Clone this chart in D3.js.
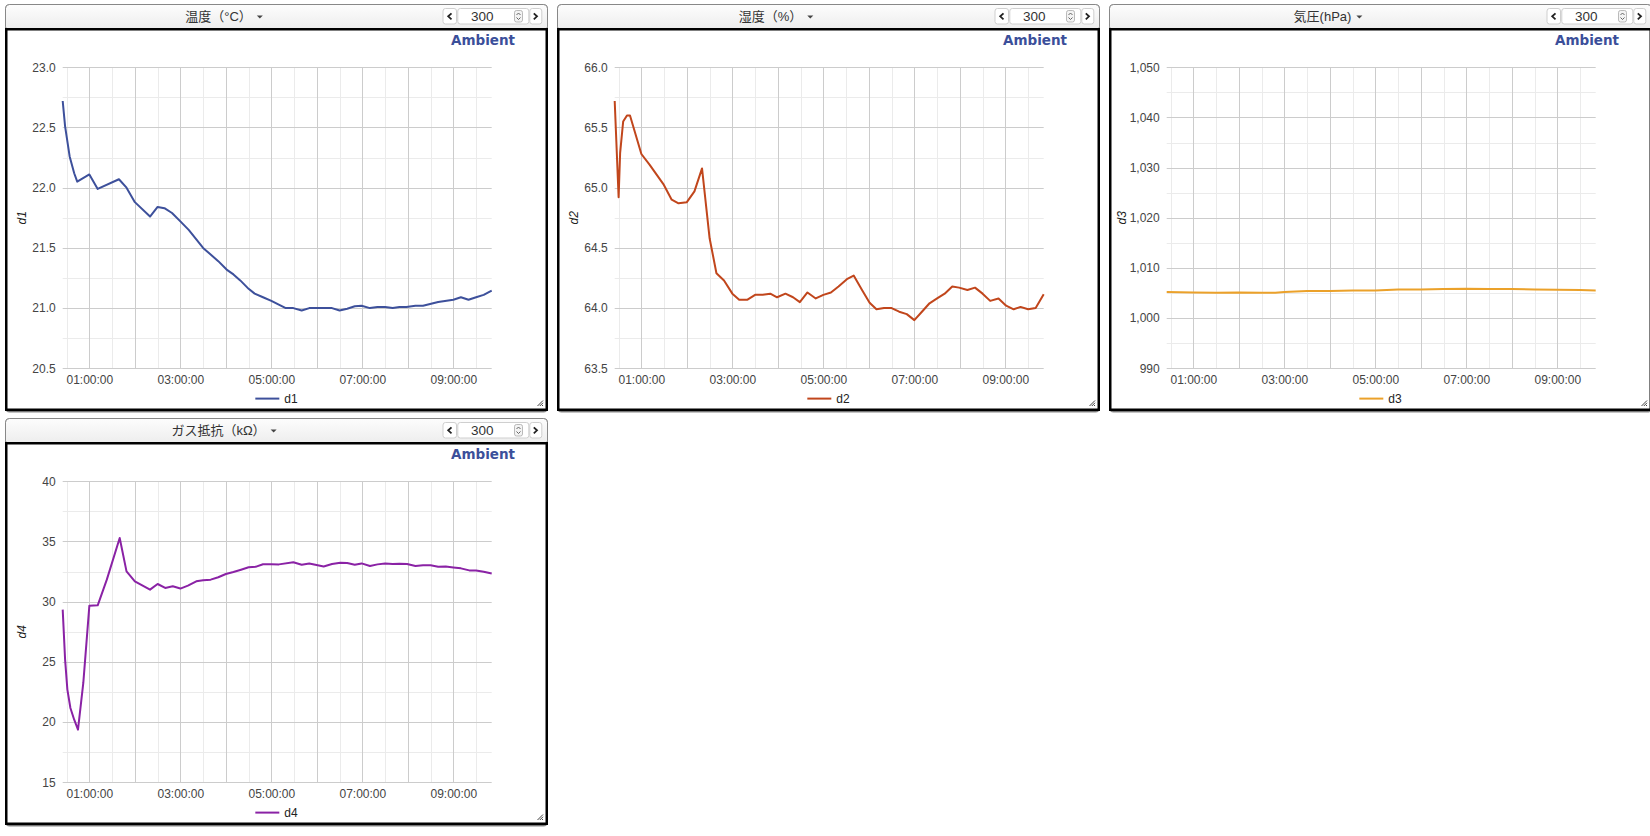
<!DOCTYPE html>
<html><head><meta charset="utf-8">
<script src="https://cdnjs.cloudflare.com/ajax/libs/d3/7.8.5/d3.min.js"></script>
<style>
html,body{margin:0;padding:0;background:#fff;}
svg{display:block;}
</style></head><body>
<svg id="c" width="1650" height="836"></svg>
<script>
const panelTitles = ["温度（°C）", "湿度（%）", "気圧(hPa)", "ガス抵抗（kΩ）"];
const seriesNames = ["d1", "d2", "d3", "d4"];
const seriesColors = ["#3d509b", "#c1461c", "#eba12a", "#8a22a5"];
const brandLabel = "Ambient";
const pointCount = "300";
const xDomain = ["00:24:50", "09:50:35"];
const xLabelTicks = ["01:00:00", "03:00:00", "05:00:00", "07:00:00", "09:00:00"];
const yDomains = [[20.5, 23], [63.5, 66], [990, 1050], [15, 40]];
const yMajorSteps = [0.5, 0.5, 10, 5];
const yFormats = [".1f", ".1f", ",", ".0f"];

const d1 = [
  ["00:24:50",22.72],["00:28",22.51],["00:34",22.26],["00:40",22.12],["00:44",22.05],["01:00",22.11],
  ["01:11",21.99],["01:39",22.07],["01:49",22.0],["02:00",21.88],["02:20",21.76],["02:30",21.84],
  ["02:39",21.83],["02:49",21.79],["03:00",21.72],["03:11",21.65],["03:30",21.50],["03:50",21.39],
  ["04:01",21.32],["04:10",21.28],["04:19",21.23],["04:30",21.16],["04:38",21.12],["04:49",21.09],
  ["05:00",21.06],["05:19",21.0],["05:29",21.0],["05:40",20.98],["05:50",21.0],["06:20",21.0],
  ["06:30",20.98],["06:40",20.995],["06:50",21.015],["06:59",21.02],["07:10",21.0],["07:20",21.01],
  ["07:30",21.01],["07:40",21.0],["07:49",21.01],["07:58",21.01],["08:10",21.02],["08:20",21.02],
  ["08:40",21.05],["09:00",21.07],["09:10",21.09],["09:20",21.07],["09:30",21.09],["09:40",21.11],
  ["09:50:35",21.145]
];
const d2 = [
  ["00:24:50",65.72],["00:30",64.92],["00:32",65.29],["00:36",65.55],["00:41",65.60],["00:45",65.60],
  ["01:00",65.28],["01:11",65.19],["01:29",65.03],["01:40",64.90],["01:49",64.87],["02:00",64.88],
  ["02:10",64.97],["02:20",65.16],["02:30",64.58],["02:39",64.29],["02:49",64.23],["03:00",64.12],
  ["03:09",64.07],["03:20",64.07],["03:30",64.11],["03:40",64.11],["03:50",64.12],["03:59",64.09],
  ["04:10",64.12],["04:20",64.09],["04:29",64.05],["04:39",64.13],["04:50",64.08],["05:00",64.11],
  ["05:10",64.13],["05:20",64.18],["05:31",64.24],["05:40",64.27],["05:51",64.15],["06:01",64.045],
  ["06:10",63.99],["06:20",64.0],["06:30",64.0],["06:40",63.97],["06:50",63.95],["07:00",63.90],
  ["07:10",63.97],["07:20",64.04],["07:30",64.08],["07:40",64.12],["07:50",64.18],["07:59",64.17],
  ["08:10",64.15],["08:20",64.17],["08:30",64.12],["08:40",64.06],["08:51",64.08],["09:01",64.02],
  ["09:11",63.99],["09:20",64.01],["09:30",63.99],["09:40",64.0],["09:50:35",64.115]
];
const d3s = [
  ["00:24:50",1005.2],["01:00",1005.13],["01:30",1005.07],["02:00",1005.13],["02:30",1005.07],
  ["02:48",1005.07],["03:00",1005.2],["03:30",1005.4],["04:00",1005.4],["04:30",1005.53],
  ["05:00",1005.53],["05:30",1005.73],["06:00",1005.73],["06:30",1005.8],["07:00",1005.87],
  ["07:30",1005.8],["08:00",1005.8],["08:30",1005.73],["09:00",1005.67],["09:30",1005.6],
  ["09:50:35",1005.53]
];
const d4 = [
  ["00:24:50",29.34],["00:28",25.19],["00:31",22.7],["00:35",21.17],["00:40",20.2],["00:45",19.37],
  ["00:52",23.25],["01:00",29.67],["01:11",29.7],["01:23",31.83],["01:40",35.29],["01:49",32.52],
  ["02:00",31.69],["02:20",31.0],["02:30",31.47],["02:40",31.14],["02:50",31.28],["03:00",31.09],
  ["03:10",31.33],["03:21",31.69],["03:30",31.78],["03:40",31.83],["03:50",32.03],["04:00",32.3],
  ["04:10",32.47],["04:20",32.66],["04:30",32.86],["04:40",32.91],["04:49",33.11],["05:00",33.12],
  ["05:10",33.1],["05:29",33.27],["05:40",33.07],["05:50",33.18],["06:09",32.93],["06:20",33.13],
  ["06:31",33.24],["06:40",33.21],["06:50",33.07],["06:59",33.18],["07:10",32.96],["07:20",33.1],
  ["07:30",33.18],["07:40",33.13],["07:49",33.16],["07:59",33.13],["08:10",32.96],["08:20",33.02],
  ["08:30",33.02],["08:40",32.9],["08:50",32.93],["09:00",32.85],["09:10",32.77],["09:21",32.6],
  ["09:30",32.6],["09:40",32.49],["09:50:35",32.35]
];
const seriesData = [d1, d2, d3s, d4];

// ---------- layout ----------
const PW = 543, PH = 408;
const origins = [[5, 4], [557, 4], [1109, 4], [5, 418]];
const plot = {left: 57.7, right: 486.7, top: 63.3, bottom: 364.3};
const AX_FONT = "'Liberation Sans', Arial, sans-serif";
const HD_FONT = "'Liberation Sans', Arial, 'Noto Sans CJK JP', sans-serif";

const parseT = s => d3.timeParse("%H:%M:%S")(s.length === 5 ? s + ":00" : s);
const fmtT = d3.timeFormat("%H:%M:%S");

const svg = d3.select("#c");
const defs = svg.append("defs");
const grad = defs.append("linearGradient").attr("id", "hdr").attr("x1", 0).attr("y1", 0).attr("x2", 0).attr("y2", 1);
grad.append("stop").attr("offset", "0%").attr("stop-color", "#fdfdfd");
grad.append("stop").attr("offset", "100%").attr("stop-color", "#ececec");

const x = d3.scaleTime().domain(xDomain.map(parseT)).range([plot.left, plot.right]);
const halfHours = d3.timeMinute.every(30).range(x.domain()[0], x.domain()[1]);

panelTitles.forEach((title, i) => {
  const [ox, oy] = origins[i];
  const g = svg.append("g").attr("transform", `translate(${ox},${oy})`);

  // frame
  g.append("rect").attr("x", 0.5).attr("y", 1.5).attr("width", PW - 1).attr("height", PH - 1)
    .attr("rx", 4).attr("fill", "#8a8a8a");
  g.append("rect").attr("x", 0.5).attr("y", 0.5).attr("width", PW - 1).attr("height", PH - 1.5)
    .attr("rx", 4).attr("fill", "#fff").attr("stroke", "#666");
  g.append("rect").attr("x", 0.5).attr("y", 0.5).attr("width", PW - 1).attr("height", 26)
    .attr("rx", 4).attr("fill", "url(#hdr)").attr("stroke", "#888");
  g.append("rect").attr("x", 1.25).attr("y", 25.25).attr("width", PW - 2.5).attr("height", PH - 27.5)
    .attr("fill", "#fff").attr("stroke", "#000").attr("stroke-width", 2.5);

  // header title + caret
  const tt = g.append("text").attr("y", 16.5).attr("font-family", HD_FONT).attr("font-size", 13)
    .attr("fill", "#333").text(title);
  const tw = tt.node().getComputedTextLength();
  const tx = 219 - (tw + 11) / 2;
  tt.attr("x", tx);
  const cx0 = tx + tw + 5;
  g.append("path").attr("d", `M${cx0},11.5 L${cx0 + 6},11.5 L${cx0 + 3},14.5 Z`).attr("fill", "#444");

  // controls
  const btn = (bx, bw) => g.append("rect").attr("x", bx + 0.5).attr("y", 4.5).attr("width", bw).attr("height", 15.5)
    .attr("rx", 2.5).attr("fill", "#fff").attr("stroke", "#cfcfcf");
  btn(437.5, 13.5);
  g.append("path").attr("d", "M446.5,9.3 L443.2,12.3 L446.5,15.3").attr("fill", "none").attr("stroke", "#222").attr("stroke-width", 1.8);
  btn(452.3, 71);
  g.append("text").attr("x", 466).attr("y", 17).attr("font-family", AX_FONT).attr("font-size", 13.5)
    .attr("fill", "#333").text(pointCount);
  g.append("rect").attr("x", 509.5).attr("y", 6.5).attr("width", 8).attr("height", 11.5).attr("rx", 2)
    .attr("fill", "#f3f3f3").attr("stroke", "#aaa").attr("stroke-width", 0.8);
  g.append("path").attr("d", "M511.5,11 L513.5,9 L515.5,11 M511.5,13.5 L513.5,15.5 L515.5,13.5")
    .attr("fill", "none").attr("stroke", "#555").attr("stroke-width", 0.9);
  btn(524.3, 12);
  g.append("path").attr("d", "M528.8,9.3 L532,12.3 L528.8,15.3").attr("fill", "none").attr("stroke", "#222").attr("stroke-width", 1.8);

  // brand
  g.append("text").attr("x", 510).attr("y", 40.5).attr("text-anchor", "end")
    .attr("font-family", "'DejaVu Sans', Verdana, sans-serif").attr("font-weight", "bold").attr("font-size", 13.5)
    .attr("fill", "#3b4f9a").text(brandLabel);

  // y scale
  const [lo, hi] = yDomains[i];
  const step = yMajorSteps[i];
  const y = d3.scaleLinear().domain([lo, hi]).range([plot.bottom, plot.top]);
  const n = Math.round((hi - lo) / step);
  const majors = d3.range(n + 1).map(k => lo + k * step);
  const minors = d3.range(n).map(k => lo + (k + 0.5) * step);

  // gridlines
  const grid = g.append("g");
  grid.selectAll(".hmin").data(minors).enter().append("line")
    .attr("x1", plot.left).attr("x2", plot.right).attr("y1", d => Math.round(y(d)) + 0.5).attr("y2", d => Math.round(y(d)) + 0.5)
    .attr("stroke", "#ebebeb");
  grid.selectAll(".vmin").data(halfHours).enter().append("line")
    .attr("x1", d => Math.round(x(d)) + 0.5).attr("x2", d => Math.round(x(d)) + 0.5).attr("y1", plot.top).attr("y2", plot.bottom)
    .attr("stroke", d => d.getMinutes() === 0 ? "#cccccc" : "#ebebeb");
  grid.selectAll(".hmaj").data(majors).enter().append("line")
    .attr("x1", plot.left).attr("x2", plot.right).attr("y1", d => Math.round(y(d)) + 0.5).attr("y2", d => Math.round(y(d)) + 0.5)
    .attr("stroke", "#cccccc");

  // y axis labels
  const yAxis = d3.axisLeft(y).tickValues(majors).tickFormat(d3.format(yFormats[i])).tickSize(0).tickPadding(0);
  const ya = g.append("g").attr("transform", `translate(${plot.left - 7},0)`).call(yAxis);
  ya.select(".domain").remove();
  ya.selectAll("text").attr("font-family", AX_FONT).attr("font-size", 12).attr("fill", "#444");
  let labelLeft = Infinity;
  ya.selectAll("text").each(function () {
    const w = this.getComputedTextLength();
    labelLeft = Math.min(labelLeft, plot.left - 7 - w);
  });

  // x axis labels
  const xAxis = d3.axisBottom(x).tickValues(xLabelTicks.map(parseT)).tickFormat(fmtT).tickSize(0).tickPadding(0);
  const xa = g.append("g").attr("transform", `translate(0,${plot.bottom + 7})`).call(xAxis);
  xa.select(".domain").remove();
  xa.selectAll("text").attr("font-family", AX_FONT).attr("font-size", 12).attr("fill", "#444").attr("dy", "0.71em");

  // y title
  const titleX = Math.min(21, labelLeft - 4);
  g.append("text").attr("transform", `translate(${titleX},${(plot.top + plot.bottom) / 2}) rotate(-90)`)
    .attr("text-anchor", "middle").attr("font-family", AX_FONT).attr("font-size", 12).attr("font-style", "italic")
    .attr("fill", "#222").text(seriesNames[i]);

  // line
  const line = d3.line().x(d => x(parseT(d[0]))).y(d => y(d[1]));
  g.append("path").datum(seriesData[i]).attr("d", line).attr("fill", "none")
    .attr("stroke", seriesColors[i]).attr("stroke-width", 2).attr("stroke-linejoin", "round");

  // legend
  const lt = g.append("text").attr("y", 398.8).attr("font-family", AX_FONT).attr("font-size", 12)
    .attr("fill", "#222").text(seriesNames[i]);
  const lw = lt.node().getComputedTextLength();
  const lx = PW / 2 - (24 + 5 + lw) / 2;
  lt.attr("x", lx + 29);
  g.append("line").attr("x1", lx).attr("x2", lx + 24).attr("y1", 394.6).attr("y2", 394.6)
    .attr("stroke", seriesColors[i]).attr("stroke-width", 2);

  // resize grip
  g.append("path").attr("d", "M538,396.5 L532.5,402 M538,398.8 L534.8,402 M538,401 L537,402")
    .attr("stroke", "#444").attr("stroke-width", 1);
});
</script>
</body></html>
